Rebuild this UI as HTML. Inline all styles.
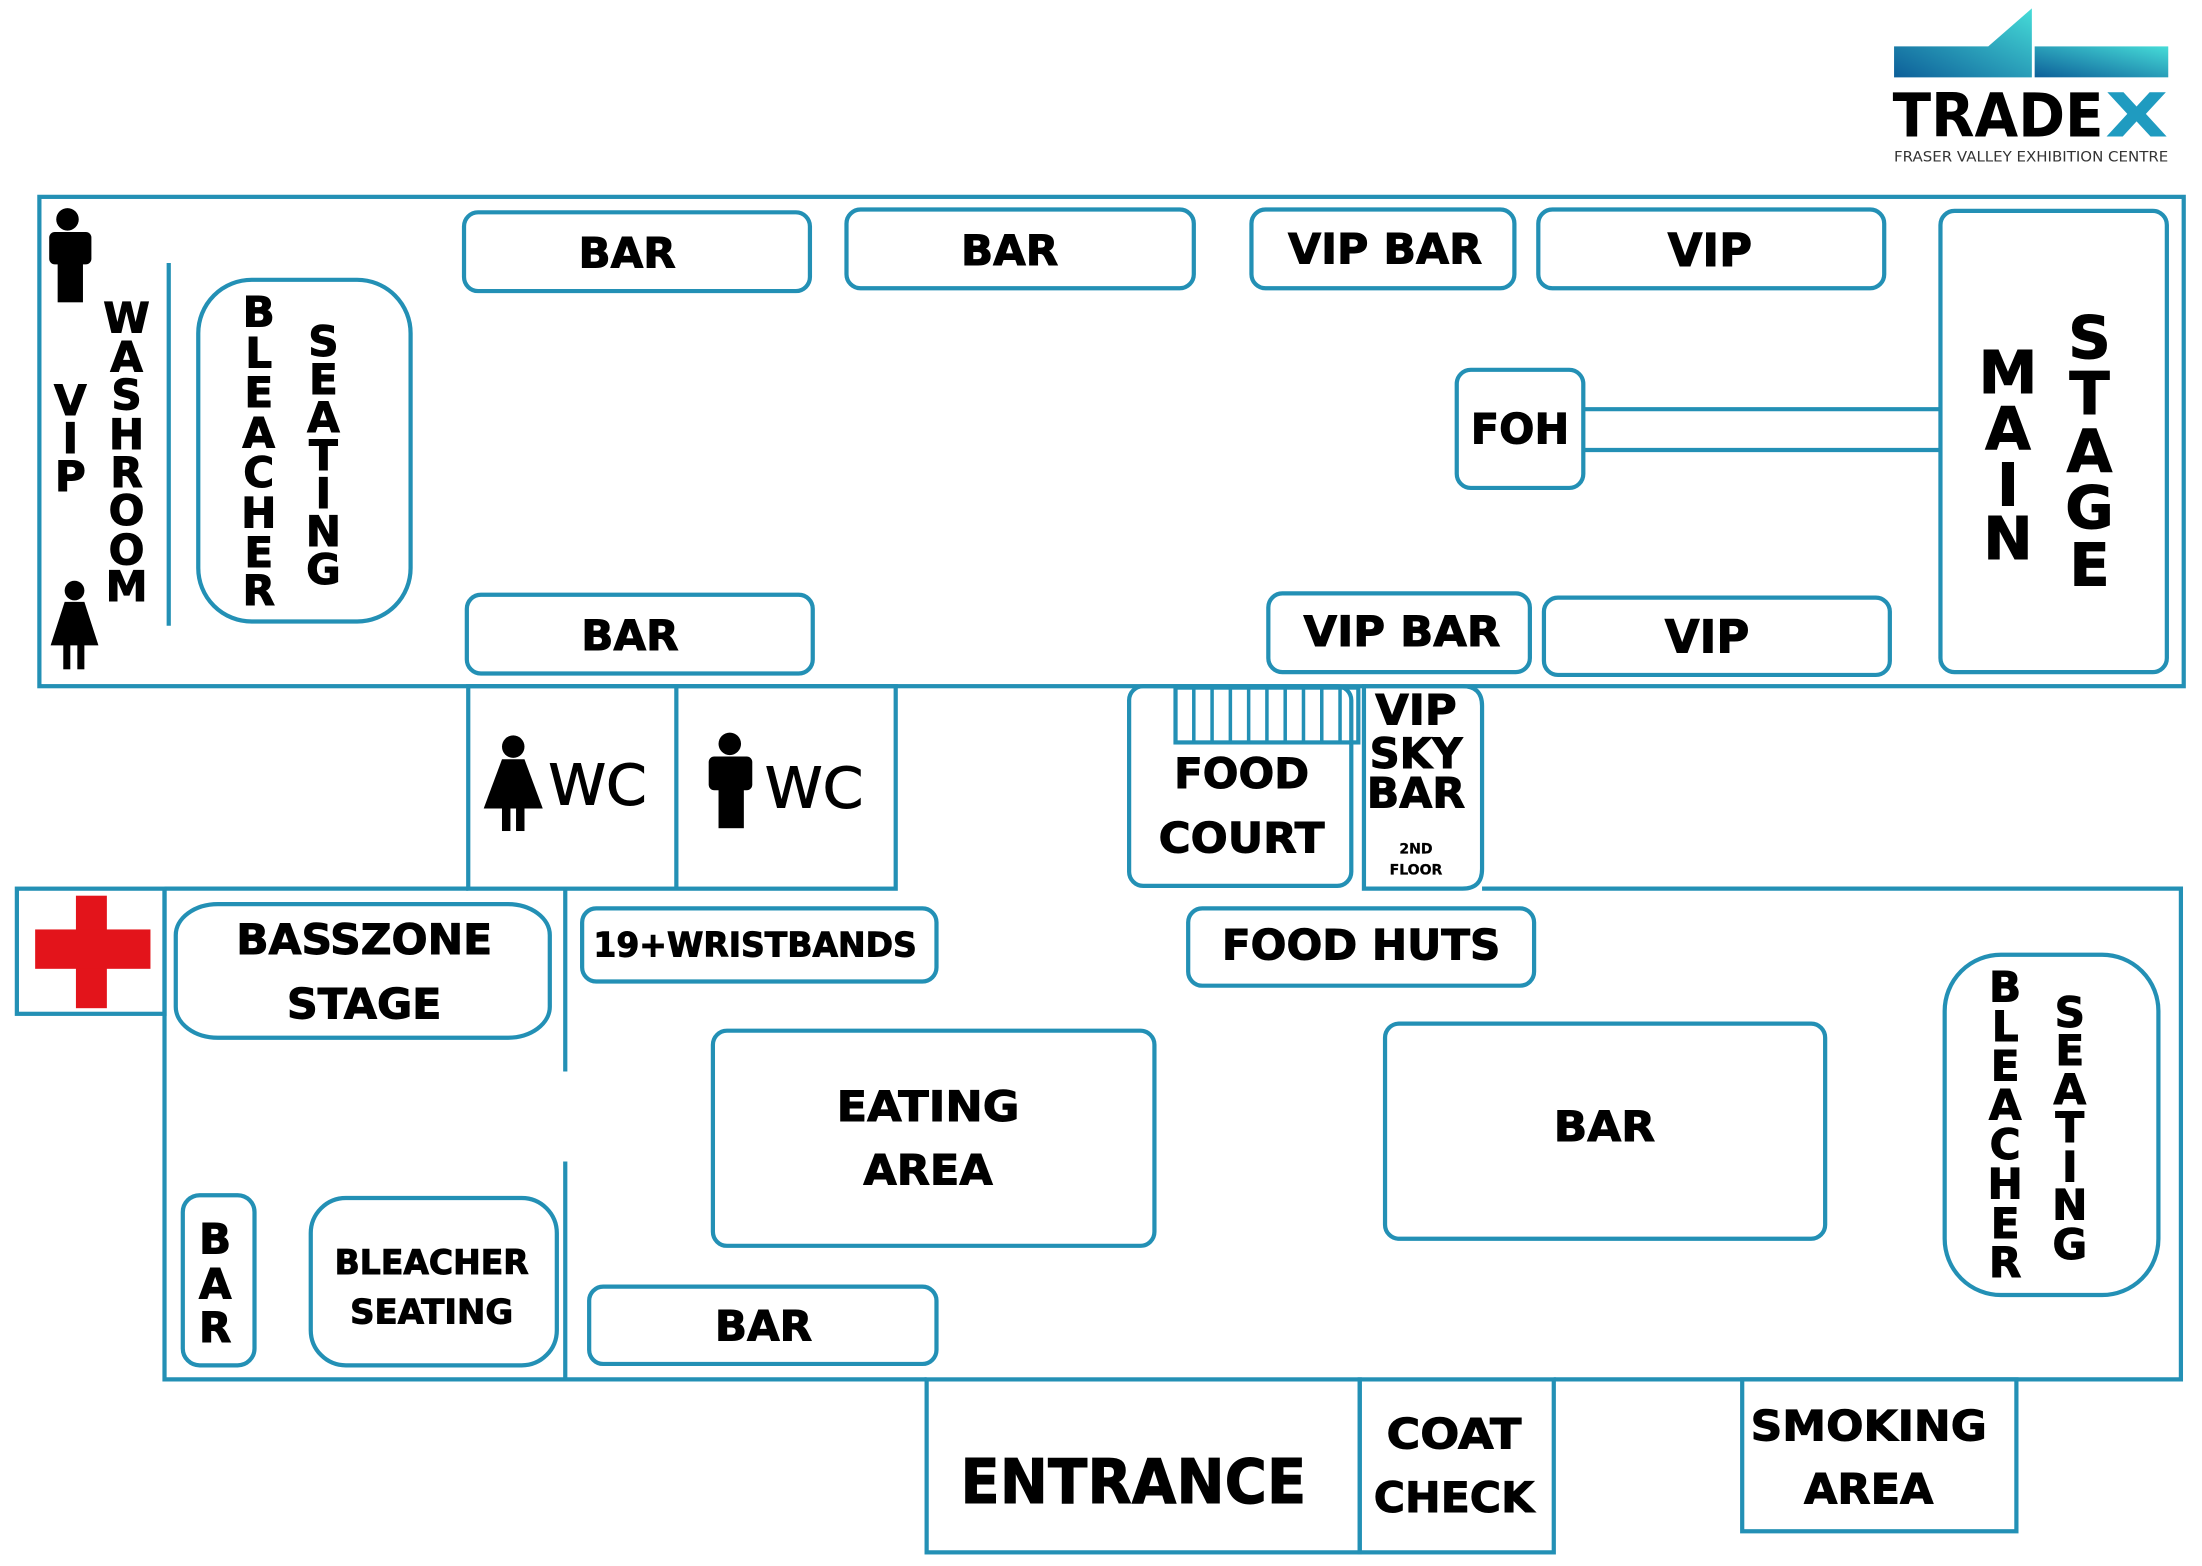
<!DOCTYPE html>
<html><head><meta charset="utf-8"><style>
html,body{margin:0;padding:0;background:#fff;}
svg{display:block;}
text{font-family:"DejaVu Sans","Liberation Sans",sans-serif;font-weight:bold;fill:#000;}
.lbl text{stroke:#000;stroke-width:0.7;}
</style></head><body>
<svg width="2202" height="1566" viewBox="0 0 1566 1113.7" preserveAspectRatio="none" xmlns="http://www.w3.org/2000/svg">
<defs>
<linearGradient id="g" x1="0" y1="1" x2="1" y2="0"><stop offset="0" stop-color="#0d5f99"/><stop offset="1" stop-color="#46dcd8"/></linearGradient>
</defs>
<rect width="1566" height="1114" fill="#fff"/>
<!-- logo -->
<polygon points="1347,33 1414,33 1445,6 1445,55 1347,55" fill="url(#g)"/>
<rect x="1447" y="33" width="95" height="22" fill="url(#g)"/>
<text x="1346" y="97" font-size="43" textLength="150" lengthAdjust="spacingAndGlyphs" font-family="Liberation Sans">TRADE</text>
<text x="1497" y="97" font-size="43" style="fill:#1f9bc0" font-family="Liberation Sans" textLength="45" lengthAdjust="spacingAndGlyphs">X</text>
<text x="1347" y="115" font-size="10" style="font-weight:normal;fill:#333" textLength="195" lengthAdjust="spacingAndGlyphs">FRASER VALLEY EXHIBITION CENTRE</text>

<g fill="none" stroke="#2390b5" stroke-width="3">
<rect x="28" y="140" width="1525" height="348"/>
<line x1="120" y1="187" x2="120" y2="445"/>
<rect x="141" y="199" width="151" height="243" rx="38"/>
<rect x="330" y="151" width="246" height="56" rx="10"/>
<rect x="602" y="149" width="247" height="56" rx="10"/>
<rect x="890" y="149" width="187" height="56" rx="10"/>
<rect x="1094" y="149" width="246" height="56" rx="10"/>
<rect x="1380" y="150" width="161" height="328" rx="10"/>
<rect x="1036" y="263" width="90" height="84" rx="10"/>
<line x1="1126" y1="291" x2="1380" y2="291"/>
<line x1="1126" y1="320" x2="1380" y2="320"/>
<rect x="332" y="423" width="246" height="56" rx="10"/>
<rect x="902" y="422" width="186" height="56" rx="10"/>
<rect x="1098" y="425" width="246" height="55" rx="10"/>
<rect x="333" y="488" width="304" height="144"/>
<line x1="481" y1="488" x2="481" y2="632"/>
<rect x="803" y="488" width="158" height="142" rx="10"/>
<rect x="836" y="489" width="130" height="39"/>
<g stroke-width="2.5">
<line x1="849" y1="489" x2="849" y2="528"/><line x1="862" y1="489" x2="862" y2="528"/>
<line x1="875" y1="489" x2="875" y2="528"/><line x1="888" y1="489" x2="888" y2="528"/>
<line x1="901" y1="489" x2="901" y2="528"/><line x1="914" y1="489" x2="914" y2="528"/>
<line x1="927" y1="489" x2="927" y2="528"/><line x1="940" y1="489" x2="940" y2="528"/>
<line x1="953" y1="489" x2="953" y2="528"/>
</g>
<path d="M970 488 H1040 Q1054 488 1054 502 V618 Q1054 632 1040 632 H970 Z"/>
<polyline points="117,632 333,632"/>
<polyline points="1054,632 1551,632 1551,981 1105,981"/>
<polyline points="117,632 117,981 659,981"/>
<line x1="402" y1="632" x2="402" y2="762"/>
<line x1="402" y1="826" x2="402" y2="981"/>
<rect x="12" y="632" width="105" height="89"/>
<rect x="659" y="981" width="308" height="123"/>
<rect x="967" y="981" width="138" height="123"/>
<rect x="1239" y="981" width="195" height="108"/>
<rect x="125" y="643" width="266" height="95" rx="30" ry="22"/>
<rect x="414" y="646" width="252" height="52" rx="10"/>
<rect x="845" y="646" width="246" height="55" rx="10"/>
<rect x="507" y="733" width="314" height="153" rx="10"/>
<rect x="985" y="728" width="313" height="153" rx="10"/>
<rect x="1383" y="679" width="152" height="242" rx="40"/>
<rect x="130" y="850" width="51" height="121" rx="12"/>
<rect x="221" y="852" width="175" height="119" rx="25"/>
<rect x="419" y="915" width="247" height="55" rx="10"/>
</g>
<rect x="54" y="637" width="22" height="80" fill="#e3141b"/>
<rect x="25" y="661" width="82" height="28" fill="#e3141b"/>

<g fill="#000">
<circle cx="48" cy="156" r="8"/><rect x="35" y="165" width="30" height="23" rx="4"/><rect x="41" y="180" width="18" height="35"/>
<circle cx="53" cy="420" r="7"/><polygon points="46,428 60,428 70,459 36,459"/><rect x="45" y="458" width="5" height="18"/><rect x="55" y="458" width="5" height="18"/>
<circle cx="365" cy="531" r="8"/><polygon points="357,540 373,540 386,575 344,575"/><rect x="357" y="574" width="6" height="17"/><rect x="367" y="574" width="6" height="17"/>
<circle cx="519" cy="529" r="8"/><rect x="504" y="538" width="31" height="24" rx="4"/><rect x="511" y="556" width="18" height="33"/>
</g>

<g class="lbl" text-anchor="middle" dominant-baseline="central">
<text x="446" y="180" font-size="30">BAR</text>
<text x="718" y="178" font-size="30">BAR</text>
<text x="985" y="177" font-size="30" textLength="138" lengthAdjust="spacingAndGlyphs">VIP BAR</text>
<text x="1216" y="178" font-size="32">VIP</text>
<text x="1081" y="305" font-size="30" textLength="70" lengthAdjust="spacingAndGlyphs">FOH</text>
<text x="448" y="452" font-size="30">BAR</text>
<text x="997" y="449" font-size="30" textLength="140" lengthAdjust="spacingAndGlyphs">VIP BAR</text>
<text x="1214" y="453" font-size="32">VIP</text>
<text x="425" y="559" font-size="40" style="font-weight:normal" textLength="70" lengthAdjust="spacingAndGlyphs">WC</text>
<text x="579" y="561" font-size="40" style="font-weight:normal" textLength="70" lengthAdjust="spacingAndGlyphs">WC</text>
<text x="883" y="550" font-size="30" textLength="96" lengthAdjust="spacingAndGlyphs">FOOD</text>
<text x="883" y="596" font-size="30" textLength="118" lengthAdjust="spacingAndGlyphs">COURT</text>
<text x="1007" y="505" font-size="30" textLength="58" lengthAdjust="spacingAndGlyphs">VIP</text>
<text x="1007" y="536" font-size="30" textLength="66" lengthAdjust="spacingAndGlyphs">SKY</text>
<text x="1007" y="564" font-size="30" textLength="70" lengthAdjust="spacingAndGlyphs">BAR</text>
<text x="1007" y="604" font-size="10" style="stroke-width:0.2">2ND</text>
<text x="1007" y="619" font-size="10" style="stroke-width:0.2">FLOOR</text>
<text x="259" y="668" font-size="30" textLength="182" lengthAdjust="spacingAndGlyphs">BASSZONE</text>
<text x="259" y="714" font-size="30" textLength="110" lengthAdjust="spacingAndGlyphs">STAGE</text>
<text x="537" y="672" font-size="24" textLength="230" lengthAdjust="spacingAndGlyphs">19+WRISTBANDS</text>
<text x="968" y="672" font-size="30" textLength="198" lengthAdjust="spacingAndGlyphs">FOOD HUTS</text>
<text x="660" y="787" font-size="30" textLength="130" lengthAdjust="spacingAndGlyphs">EATING</text>
<text x="660" y="832" font-size="30" textLength="92" lengthAdjust="spacingAndGlyphs">AREA</text>
<text x="1141" y="801" font-size="30" textLength="72" lengthAdjust="spacingAndGlyphs">BAR</text>
<text x="307" y="898" font-size="24" textLength="138" lengthAdjust="spacingAndGlyphs">BLEACHER</text>
<text x="307" y="933" font-size="24" textLength="116" lengthAdjust="spacingAndGlyphs">SEATING</text>
<text x="543" y="943" font-size="30">BAR</text>
<text x="806" y="1054" font-size="44" textLength="246" lengthAdjust="spacingAndGlyphs">ENTRANCE</text>
<text x="1034" y="1020" font-size="30" textLength="96" lengthAdjust="spacingAndGlyphs">COAT</text>
<text x="1034" y="1065" font-size="30" textLength="114" lengthAdjust="spacingAndGlyphs">CHECK</text>
<text x="1329" y="1014" font-size="30" textLength="168" lengthAdjust="spacingAndGlyphs">SMOKING</text>
<text x="1329" y="1059" font-size="30" textLength="92" lengthAdjust="spacingAndGlyphs">AREA</text>

<g font-size="30">
<text x="50" y="285">V</text><text x="50" y="312">I</text><text x="50" y="339">P</text>
<text x="90" y="226">W</text><text x="90" y="254">A</text><text x="90" y="281">S</text><text x="90" y="309">H</text><text x="90" y="336">R</text><text x="90" y="363">O</text><text x="90" y="391">O</text><text x="90" y="417">M</text>
<text x="184" y="222">B</text><text x="184" y="251">L</text><text x="184" y="279">E</text><text x="184" y="308">A</text><text x="184" y="336">C</text><text x="184" y="365">H</text><text x="184" y="393">E</text><text x="184" y="420">R</text>
<text x="230" y="243">S</text><text x="230" y="270">E</text><text x="230" y="297">A</text><text x="230" y="324">T</text><text x="230" y="351">I</text><text x="230" y="378">N</text><text x="230" y="405">G</text>
<text x="1426" y="702">B</text><text x="1426" y="730">L</text><text x="1426" y="758">E</text><text x="1426" y="786">A</text><text x="1426" y="814">C</text><text x="1426" y="842">H</text><text x="1426" y="870">E</text><text x="1426" y="898">R</text>
<text x="1472" y="720">S</text><text x="1472" y="747">E</text><text x="1472" y="775">A</text><text x="1472" y="802">T</text><text x="1472" y="830">I</text><text x="1472" y="857">N</text><text x="1472" y="885">G</text>
<text x="153" y="881">B</text><text x="153" y="913">A</text><text x="153" y="944">R</text>
</g>
<g font-size="42">
<text x="1428" y="265">M</text><text x="1428" y="305">A</text><text x="1428" y="345">I</text><text x="1428" y="383">N</text>
<text x="1486" y="240">S</text><text x="1486" y="280">T</text><text x="1486" y="321">A</text><text x="1486" y="361">G</text><text x="1486" y="402">E</text>
</g>
</g>
</svg>
</body></html>
